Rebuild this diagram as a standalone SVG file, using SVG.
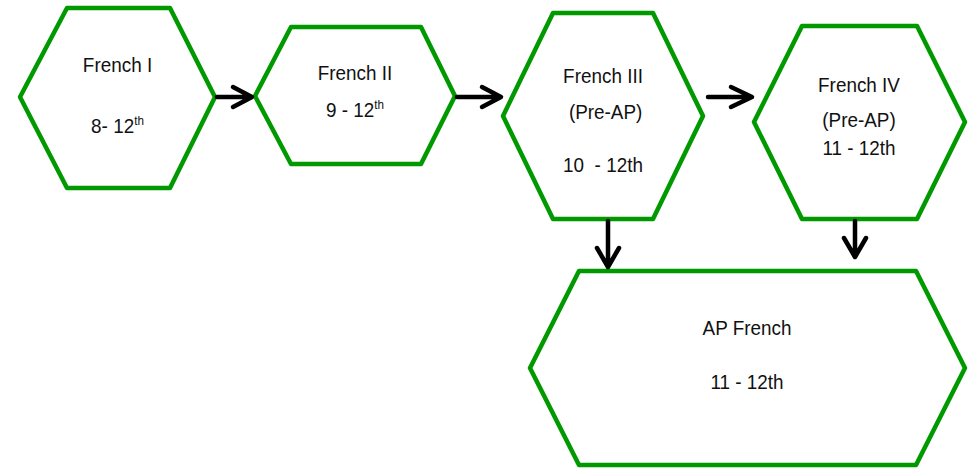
<svg xmlns="http://www.w3.org/2000/svg" width="971" height="468" viewBox="0 0 971 468">
<style>
.hex{fill:#fff;stroke:#009900;stroke-width:4.5;stroke-linejoin:round}
.t{font-family:"Liberation Sans",Arial,sans-serif;font-size:21px;fill:#111;text-anchor:middle;white-space:pre}
.sup{font-size:13px}
.c{fill:none;stroke:#000;stroke-width:4.5;stroke-linecap:round;stroke-linejoin:round}
</style>
<rect width="971" height="468" fill="#fff"/>
<g id="french1">
<polygon class="hex" points="67,8 170,8 215,97 170,188 67,188 20,97"/>
<text class="t" transform="translate(117.5,72) scale(0.9,1)">French I</text>
<text class="t" transform="translate(117.5,133) scale(0.9,1)">8- 12<tspan class="sup" dy="-8">th</tspan></text>
</g>
<g id="french2">
<polygon class="hex" points="291,27 421,27 455,96 421,164 291,164 255,96"/>
<text class="t" transform="translate(355,80) scale(0.9,1)">French II</text>
<text class="t" transform="translate(355,117) scale(0.9,1)">9 - 12<tspan class="sup" dy="-8">th</tspan></text>
</g>
<g id="french3">
<polygon class="hex" points="553,13 653,13 703,116 653,219 553,219 503,116"/>
<text class="t" transform="translate(603,83) scale(0.9,1)">French III</text>
<text class="t" transform="translate(603,119) scale(0.9,1)"> (Pre-AP)</text>
<text class="t" transform="translate(603,172) scale(0.9,1)">10  - 12th</text>
</g>
<g id="french4">
<polygon class="hex" points="802,26 917,26 965,122 917,219 802,219 754,122"/>
<text class="t" transform="translate(859,92) scale(0.9,1)">French IV</text>
<text class="t" transform="translate(859,127) scale(0.9,1)">(Pre-AP)</text>
<text class="t" transform="translate(859,155) scale(0.9,1)">11 - 12th</text>
</g>
<g id="apfrench">
<polygon class="hex" points="579,271 916,271 965,368 916,465 579,465 530,368"/>
<text class="t" transform="translate(747,335) scale(0.9,1)">AP French</text>
<text class="t" transform="translate(747,389) scale(0.9,1)">11 - 12th</text>
</g>
<g id="connectors">
<path class="c" d="M217,97 H251 M233,87 L252,97 L233,107"/>
<path class="c" d="M457,97 H499 M482,87 L501,97 L482,107"/>
<path class="c" d="M708,97 H751 M731,87 L752,97 L731,107"/>
<path class="c" d="M608,221 V266 M597,248 L608,267 L619,248"/>
<path class="c" d="M855,221 V256 M844,238 L855,257 L866,238"/>
</g>
</svg>
